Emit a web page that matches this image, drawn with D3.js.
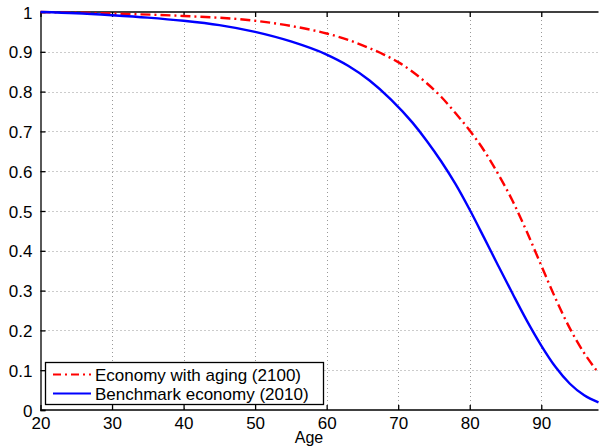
<!DOCTYPE html>
<html><head><meta charset="utf-8">
<script src="https://cdn.jsdelivr.net/npm/d3@7"></script>
<style>body{margin:0;background:#fff}svg{display:block}</style>
</head><body>
<svg id="c" width="600" height="447"></svg>
<script>
const ages = [20,25,30,35,40,45,50,55,60,63,66,69,72,74,76,78,80,82,84,86,88,90,92,94,96,98];
const benchmark = [1.0,0.997,0.992,0.986,0.978,0.967,0.950,0.926,0.893,0.865,0.828,0.780,0.722,0.676,0.625,0.568,0.503,0.433,0.362,0.292,0.224,0.162,0.108,0.066,0.037,0.019];
const agesAging = [20,30,40,50,55,60,63,66,68,70,72,74,76,78,80,82,84,86,88,90,92,94,96,98];
const aging = [1.0,0.996,0.990,0.978,0.965,0.946,0.930,0.909,0.893,0.874,0.850,0.821,0.787,0.746,0.702,0.652,0.592,0.525,0.447,0.363,0.280,0.205,0.143,0.093];
const xTicks = [20,30,40,50,60,70,80,90];
const yTicks = [0,0.1,0.2,0.3,0.4,0.5,0.6,0.7,0.8,0.9,1];
const yTickLabels = ["0","0.1","0.2","0.3","0.4","0.5","0.6","0.7","0.8","0.9","1"];
const legendLabels = ["Economy with aging (2100)","Benchmark economy (2010)"];

const svg = d3.select("#c");
const L=40.5, R=598.5, T=12, B=410;
const x = d3.scaleLinear().domain([20,98]).range([L,R]);
const y = d3.scaleLinear().domain([0,1]).range([B,T]);
const font = "'Liberation Sans', Arial, Helvetica, sans-serif";
const fs = 17;

// grid
const g = svg.append("g");
g.selectAll(".vg").data(xTicks.slice(1)).enter().append("line")
 .attr("x1",d=>Math.round(x(d))+0.5).attr("x2",d=>Math.round(x(d))+0.5).attr("y1",T).attr("y2",B)
 .attr("stroke","#999").attr("stroke-width",1).attr("stroke-dasharray","1,3");
g.selectAll(".hg").data(yTicks.slice(1,-1)).enter().append("line")
 .attr("y1",d=>Math.round(y(d))+0.5).attr("y2",d=>Math.round(y(d))+0.5).attr("x1",L).attr("x2",R)
 .attr("stroke","#999").attr("stroke-width",1).attr("stroke-dasharray","1,3");

// axes
const xAxis = d3.axisBottom(x).tickValues(xTicks).tickSize(-5).tickPadding(10).tickFormat(d3.format("d"));
const xa = svg.append("g").attr("transform",`translate(0,${B})`).call(xAxis);
const xAxisTop = d3.axisTop(x).tickValues(xTicks).tickSize(-5).tickFormat("");
const xt = svg.append("g").attr("transform",`translate(0,${T})`).call(xAxisTop);
const yAxis = d3.axisLeft(y).tickValues(yTicks).tickSize(-5).tickPadding(8).tickFormat((d,i)=>yTickLabels[i]);
const ya = svg.append("g").attr("transform",`translate(${L},0)`).call(yAxis);
[xa,xt,ya].forEach(a=>{
  a.selectAll("path").attr("stroke","#000").attr("stroke-width",1.3);
  a.selectAll("line").attr("stroke","#000").attr("stroke-width",1.3);
  a.selectAll("text").attr("font-family",font).attr("font-size",fs).attr("fill","#000");
});
xa.selectAll("text").attr("dy","0.5em");
ya.selectAll("text").attr("dy","0.36em");
xa.selectAll("path").attr("d",`M${L},0H${R}`);
xt.selectAll("path").attr("d",`M${L},0H${R}`);

svg.append("text").attr("x",309).attr("y",443).attr("text-anchor","middle")
 .attr("font-family",font).attr("font-size",16).text("Age");

// lines
const lineB = d3.line().x((d,i)=>x(ages[i])).y(d=>y(d)).curve(d3.curveMonotoneX);
const lineA = d3.line().x((d,i)=>x(agesAging[i])).y(d=>y(d)).curve(d3.curveMonotoneX);
svg.append("path").attr("d",lineA(aging)).attr("fill","none").attr("stroke","#ff0000")
 .attr("stroke-width",2.4).attr("stroke-dasharray","10,4,2,4");
svg.append("path").attr("d",lineB(benchmark)).attr("fill","none").attr("stroke","#0000ff")
 .attr("stroke-width",2.4);

// legend
const lg = svg.append("g");
lg.append("rect").attr("x",45.5).attr("y",362.5).attr("width",278).attr("height",42)
 .attr("fill","#fff").attr("stroke","#000").attr("stroke-width",1.3);
const colors=["#ff0000","#0000ff"], dashes=["8,4,2,4",null];
legendLabels.forEach((t,i)=>{
  const yy = 374.5 + i*19;
  lg.append("line").attr("x1",53).attr("x2",91).attr("y1",yy).attr("y2",yy)
    .attr("stroke",colors[i]).attr("stroke-width",2).attr("stroke-dasharray",dashes[i]);
  lg.append("text").attr("x",95).attr("y",yy+6).attr("font-family",font).attr("font-size",fs).text(t);
});
</script>
</body></html>
